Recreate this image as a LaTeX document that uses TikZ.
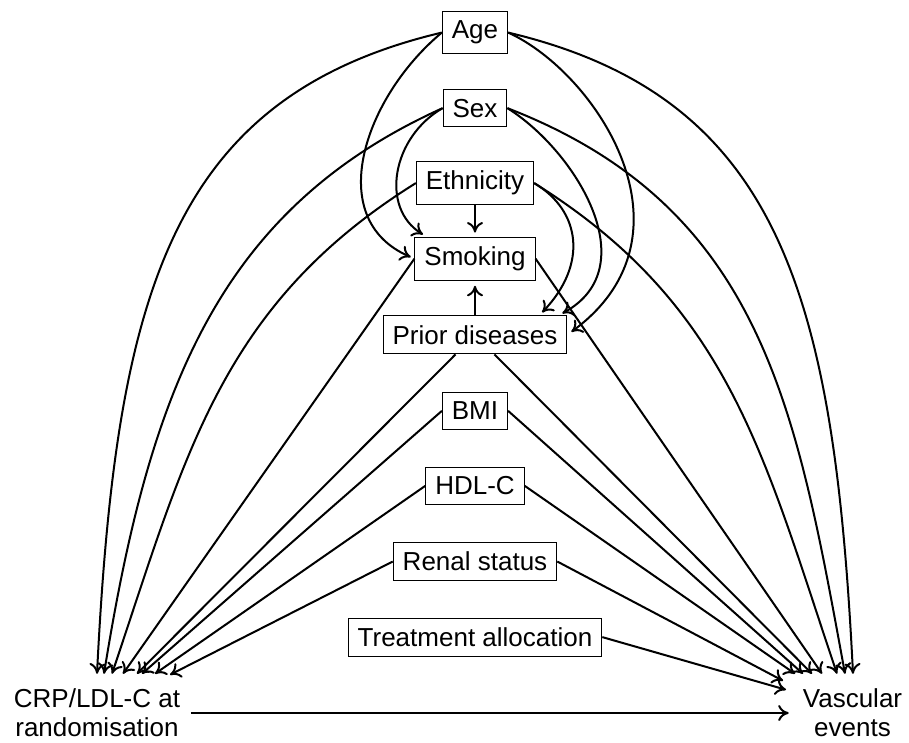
\documentclass[tikz,border=0pt]{standalone}
\usepackage{fontspec}
\setmainfont{Liberation Sans}
\usetikzlibrary{arrows.meta,calc}
\begin{document}
\begin{tikzpicture}[x=1pt,y=1pt,
  box/.style={draw, line width=1pt, inner sep=9.5pt, anchor=base, font=\fontsize{26}{30}\selectfont},
  lbl/.style={align=center, inner ysep=15pt, font=\fontsize{26}{29}\selectfont},
  arr/.style={line width=2pt, -{To[length=10.5pt,width=16pt]}},
  gap/.style={shorten >=4pt}]
\useasboundingbox (0,0) rectangle (909,-743);
% nodes
\node[box] (age)   at (475,-38.8)  {Age};
\node[box] (sex)   at (475,-117.1) {Sex};
\node[box] (eth)   at (475,-189.8) {Ethnicity};
\node[box] (smok)  at (475,-265.4) {Smoking};
\node[box] (prior) at (475,-344.1) {Prior diseases};
\node[box] (bmi)   at (475,-419.8) {BMI};
\node[box] (hdl)   at (475,-494.8) {HDL-C};
\node[box] (renal) at (475,-570.8) {Renal status};
\node[box] (treat) at (475,-646.4) {Treatment allocation};
\node[lbl, inner xsep=10.5pt] (crp)  at (97,-713)   {CRP/LDL-C at\\randomisation};
\node[lbl, inner xsep=14pt]   (vasc) at (852.5,-713) {Vascular\\events};
% arrow end points
\coordinate (cA) at ([xshift=0pt]crp.north);
\coordinate (cS) at ([xshift=7pt]crp.north);
\coordinate (cE) at ([xshift=15pt]crp.north);
\coordinate (cM) at ([xshift=26pt]crp.north);
\coordinate (cP) at ([xshift=40pt]crp.north);
\coordinate (cB) at ([xshift=45pt]crp.north);
\coordinate (cH) at ([xshift=58pt]crp.north);
\coordinate (cR) at ([xshift=73pt,yshift=-1pt]crp.north);
\coordinate (vA) at ([xshift=0.5pt]vasc.north);
\coordinate (vS) at ([xshift=-7.5pt]vasc.north);
\coordinate (vE) at ([xshift=-15.5pt]vasc.north);
\coordinate (vM) at ([xshift=-30.5pt]vasc.north);
\coordinate (vP) at ([xshift=-40.5pt]vasc.north);
\coordinate (vB) at ([xshift=-49.5pt]vasc.north);
\coordinate (vH) at ([xshift=-57.5pt]vasc.north);
\coordinate (vR) at ([xshift=-69.5pt,yshift=-7pt]vasc.north);
\coordinate (vT) at ([xshift=-66.5pt,yshift=-16pt]vasc.north);
\coordinate (sm1) at ([xshift=12pt]smok.north west);
\coordinate (pr1) at ([xshift=-8.5pt]prior.north east);
\coordinate (pr2) at ([xshift=-28pt]prior.north east);
% curved arrows to CRP
\draw[arr] (age.west) .. controls ($(age.west)+(-271.6,-64.4)$) and ($(cA)+(19,380)$) .. (cA);
\draw[arr] (sex.west) .. controls ($(sex.west)+(-227.5,-102.5)$) and ($(cS)+(44.8,277.2)$) .. (cS);
\draw[arr] (eth.west) .. controls ($(eth.west)+(-195.5,-121.9)$) and ($(cE)+(73.6,218.5)$) .. (cE);
% curved arrows to vascular events
\draw[arr] (age.east) .. controls ($(age.east)+(271.6,-64.4)$) and ($(vA)+(-19,380)$) .. (vA);
\draw[arr] (sex.east) .. controls ($(sex.east)+(255.75,-99)$) and ($(vS)+(-48.6,264.6)$) .. (vS);
\draw[arr] (eth.east) .. controls ($(eth.east)+(195.5,-121.9)$) and ($(vE)+(-73.6,218.5)$) .. (vE);
% curved arrows to smoking
\draw[arr,gap] (age.west) .. controls ($(age.west)+(-77,-64)$) and ($(smok.west)+(-92,40)$) .. (smok.west);
\draw[arr,gap] (sex.west) .. controls ($(sex.west)+(-50.5,-29)$) and ($(sm1)+(-46.7,28.6)$) .. (sm1);
% curved arrows to prior diseases
\draw[arr,shorten >=5pt] (age.east) .. controls ($(age.east)+(88,-40)$) and ($(prior.east)+(136,100)$) .. (prior.east);
\draw[arr,gap] (sex.east) .. controls ($(sex.east)+(68,-42.4)$) and ($(pr1)+(88,48)$) .. (pr1);
\draw[arr,gap] (eth.east) .. controls ($(eth.east)+(47.3,-28)$) and ($(pr2)+(48.3,50.4)$) .. (pr2);
% straight arrows
\draw[arr,gap] (eth.south) -- (smok.north);
\draw[arr,shorten >=5pt] (prior.north) -- (smok.south);
\draw[arr] (smok.west) -- (cM);
\draw[arr] (smok.east) -- (vM);
\draw[arr] (prior) -- (cP);
\draw[arr] (prior) -- (vP);
\draw[arr] (bmi.west) -- (cB);
\draw[arr] (bmi.east) -- (vB);
\draw[arr] (hdl.west) -- (cH);
\draw[arr] (hdl.east) -- (vH);
\draw[arr] (renal.west) -- (cR);
\draw[arr] (renal.east) -- (vR);
\draw[arr] (treat.east) -- (vT);
\draw[arr] (crp.east) -- (crp.east -| vasc.west);
\end{tikzpicture}
\end{document}
